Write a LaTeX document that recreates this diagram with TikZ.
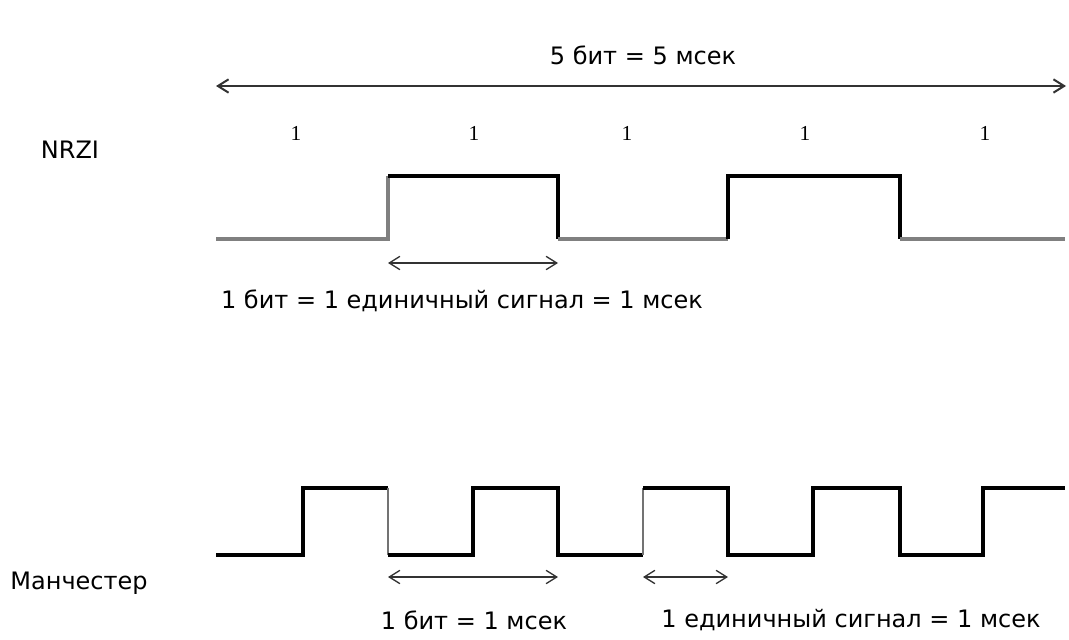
\documentclass[tikz,border=0pt]{standalone}
\usepackage{fontspec}
\setmainfont{DejaVu Sans}
\newfontfamily\digitfont{Liberation Serif}
\usetikzlibrary{arrows.meta}
\begin{document}
\begin{tikzpicture}[x=0.75pt,y=-0.75pt,
  lbl/.style={font=\fontsize{18}{20}\selectfont, inner sep=0pt, anchor=center},
  bitlbl/.style={font=\digitfont\fontsize{16}{18}\selectfont, inner sep=0pt},
  span/.style={draw=black!80, line width=1pt, {Straight Barb[length=8pt,width=10pt]}-{Straight Barb[length=8pt,width=10pt]}},
  hi/.style={line width=2.6pt, black, line cap=butt, line join=miter},
  lo/.style={line width=2.4pt, black!50, line cap=butt}]
\useasboundingbox (0,0) rectangle (1069,639);

% overall duration
\coordinate (tl) at (216,86);
\coordinate (tr) at (1066,86);
\draw[span, line width=1.5pt] (tl) -- (tr);
\node[lbl] (total) at (643,55) {5 бит = 5 мсек};

% bit values
\foreach \x/\n in {296/b1,474/b2,627/b3,805/b4,985/b5}
  \node[bitlbl] (\n) at (\x,133) {1};

% NRZI waveform
\node[lbl] (nrzi) at (70,150) {NRZI};
\draw[lo] (216,239) -- (388,239) -- (388,176);
\draw[hi] (388,176) -- (558,176) -- (558,239);
\draw[lo] (558,239) -- (728,239);
\draw[hi] (728,239) -- (728,176) -- (900,176) -- (900,239);
\draw[lo] (900,239) -- (1065,239);

\coordinate (na) at (388,263);
\coordinate (nb) at (558,263);
\draw[span] (na) -- (nb);
\node[lbl] (nrzitext) at (462,301) {1 бит = 1 единичный сигнал = 1 мсек};

% Manchester waveform
\node[lbl] (manch) at (79,583) {Манчестер};
\draw[hi] (216,555) -- (303,555) -- (303,488) -- (388,488);
\draw[line width=2.2pt, black!55] (388,488) -- (388,555);
\draw[hi] (388,555) -- (473,555) -- (473,488) -- (558,488) -- (558,555) -- (643,555);
\draw[line width=2.2pt, black!55] (643,555) -- (643,488);
\draw[hi] (643,488) -- (728,488) -- (728,555) -- (813,555) -- (813,488)
  -- (900,488) -- (900,555) -- (983,555) -- (983,488) -- (1065,488);

\coordinate (ma) at (388,577);
\coordinate (mb) at (558,577);
\draw[span] (ma) -- (mb);
\coordinate (mc) at (643,577);
\coordinate (md) at (728,577);
\draw[span] (mc) -- (md);
\node[lbl] (bittext) at (474,620) {1 бит = 1 мсек};
\node[lbl] (sigtext) at (851,620) {1 единичный сигнал = 1 мсек};
\end{tikzpicture}
\end{document}
